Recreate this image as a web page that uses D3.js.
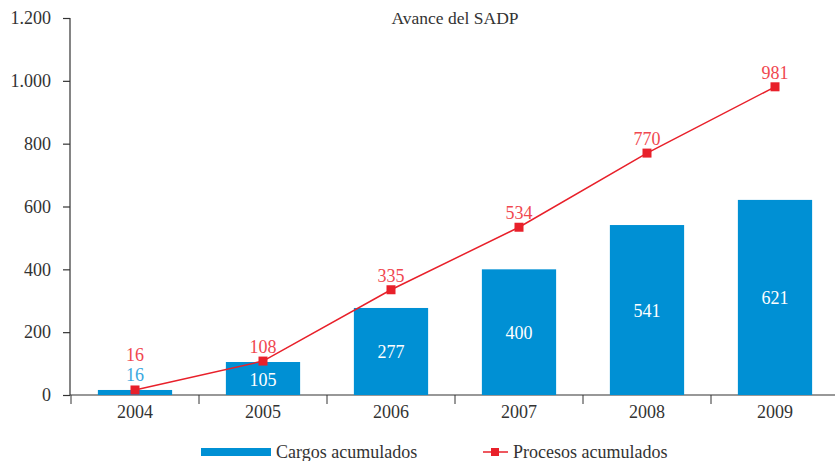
<!DOCTYPE html>
<html>
<head>
<meta charset="utf-8">
<script src="https://cdn.jsdelivr.net/npm/d3@7"></script>
<style>
  body { margin: 0; background: #fff; }
  svg, svg text { font-family: "Liberation Serif", "DejaVu Serif", serif; }
</style>
</head>
<body>
<svg id="chart" width="835" height="461"></svg>
<script>
// data
const years = ['2004', '2005', '2006', '2007', '2008', '2009'];
const cargos = [16, 105, 277, 400, 541, 621];
const procesos = [16, 108, 335, 534, 770, 981];
const yTicks = [0, 200, 400, 600, 800, 1000, 1200];

const blue = '#0090d4';
const red = '#e8202a';
const fs = 18;
const serif = '"Liberation Serif", "DejaVu Serif", serif';

const svg = d3.select('#chart');
const fmt = d3.formatLocale({decimal: ',', thousands: '.', grouping: [3], currency: ['', '']}).format(',');

const x = d3.scaleBand().domain(years).range([71, 839]).paddingInner(0.42).paddingOuter(0.21);
const y = d3.scaleLinear().domain([0, 1200]).range([395, 18]);

// axes
const yAxis = svg.append('g')
    .attr('transform', 'translate(70,0)')
    .call(d3.axisLeft(y).tickValues(yTicks).tickFormat(fmt).tickSize(7).tickPadding(12));
yAxis.select('.domain').attr('d', 'M0,' + y(1200) + 'V' + y(0));

const xAxis = svg.append('g')
    .attr('transform', 'translate(0,395)')
    .call(d3.axisBottom(x).tickSize(0).tickPadding(10));
xAxis.select('.domain').attr('d', 'M70,0H835');
// tick marks between categories
xAxis.selectAll('.sep')
    .data(years)
    .join('line')
    .attr('class', 'sep')
    .attr('x1', d => x(d) - x.step() * x.paddingInner() / 2)
    .attr('x2', d => x(d) - x.step() * x.paddingInner() / 2)
    .attr('y1', 0).attr('y2', 9)
    .attr('stroke', '#333');

svg.selectAll('g').attr('font-family', serif).attr('font-size', fs);
svg.selectAll('.tick text')
    .attr('fill', '#333')
    .style('font-family', serif)
    .style('font-size', fs + 'px');
svg.selectAll('.domain, .tick line').attr('stroke', '#333').attr('stroke-width', 1.2);

// title
svg.append('text')
    .attr('x', 455).attr('y', 24)
    .attr('text-anchor', 'middle')
    .attr('font-size', 17.5).attr('fill', '#333')
    .text('Avance del SADP');

// bars
svg.selectAll('.bar')
    .data(cargos)
    .join('rect')
    .attr('class', 'bar')
    .attr('x', (d, i) => x(years[i]))
    .attr('width', x.bandwidth())
    .attr('y', d => y(d))
    .attr('height', d => y(0) - y(d))
    .attr('fill', blue);

svg.selectAll('.bar-label')
    .data(cargos)
    .join('text')
    .attr('class', 'bar-label')
    .attr('x', (d, i) => x(years[i]) + x.bandwidth() / 2)
    .attr('y', d => d < 50 ? y(d) - 9 : (y(d) + y(0)) / 2 + 7)
    .attr('text-anchor', 'middle')
    .attr('font-size', fs)
    .attr('fill', d => d < 50 ? '#3aa8e0' : '#fff')
    .text(d => d);

// line
const cx = i => x(years[i]) + x.bandwidth() / 2;
const line = d3.line().x((d, i) => cx(i)).y(d => y(d));

svg.append('path')
    .datum(procesos)
    .attr('d', line)
    .attr('fill', 'none')
    .attr('stroke', red)
    .attr('stroke-width', 1.5);

svg.selectAll('.marker')
    .data(procesos)
    .join('rect')
    .attr('class', 'marker')
    .attr('x', (d, i) => cx(i) - 4.5)
    .attr('y', d => y(d) - 4.5)
    .attr('width', 9).attr('height', 9)
    .attr('fill', red);

svg.selectAll('.line-label')
    .data(procesos)
    .join('text')
    .attr('class', 'line-label')
    .attr('x', (d, i) => cx(i))
    .attr('y', (d, i) => i === 0 ? y(d) - 29 : y(d) - 8)
    .attr('text-anchor', 'middle')
    .attr('font-size', fs)
    .attr('fill', '#f0474f')
    .text(d => d);

// legend
const legend = svg.append('g').attr('transform', 'translate(0,452)');
legend.append('rect')
    .attr('x', 201).attr('y', -4).attr('width', 70).attr('height', 8)
    .attr('fill', blue);
legend.append('text')
    .attr('x', 276).attr('y', 6)
    .attr('font-size', fs).attr('fill', '#333')
    .text('Cargos acumulados');
legend.append('line')
    .attr('x1', 483).attr('x2', 508).attr('y1', 0).attr('y2', 0)
    .attr('stroke', red).attr('stroke-width', 1.5);
legend.append('rect')
    .attr('x', 491).attr('y', -4).attr('width', 8).attr('height', 8)
    .attr('fill', red);
legend.append('text')
    .attr('x', 513).attr('y', 6)
    .attr('font-size', fs).attr('fill', '#333')
    .text('Procesos acumulados');
</script>
</body>
</html>
